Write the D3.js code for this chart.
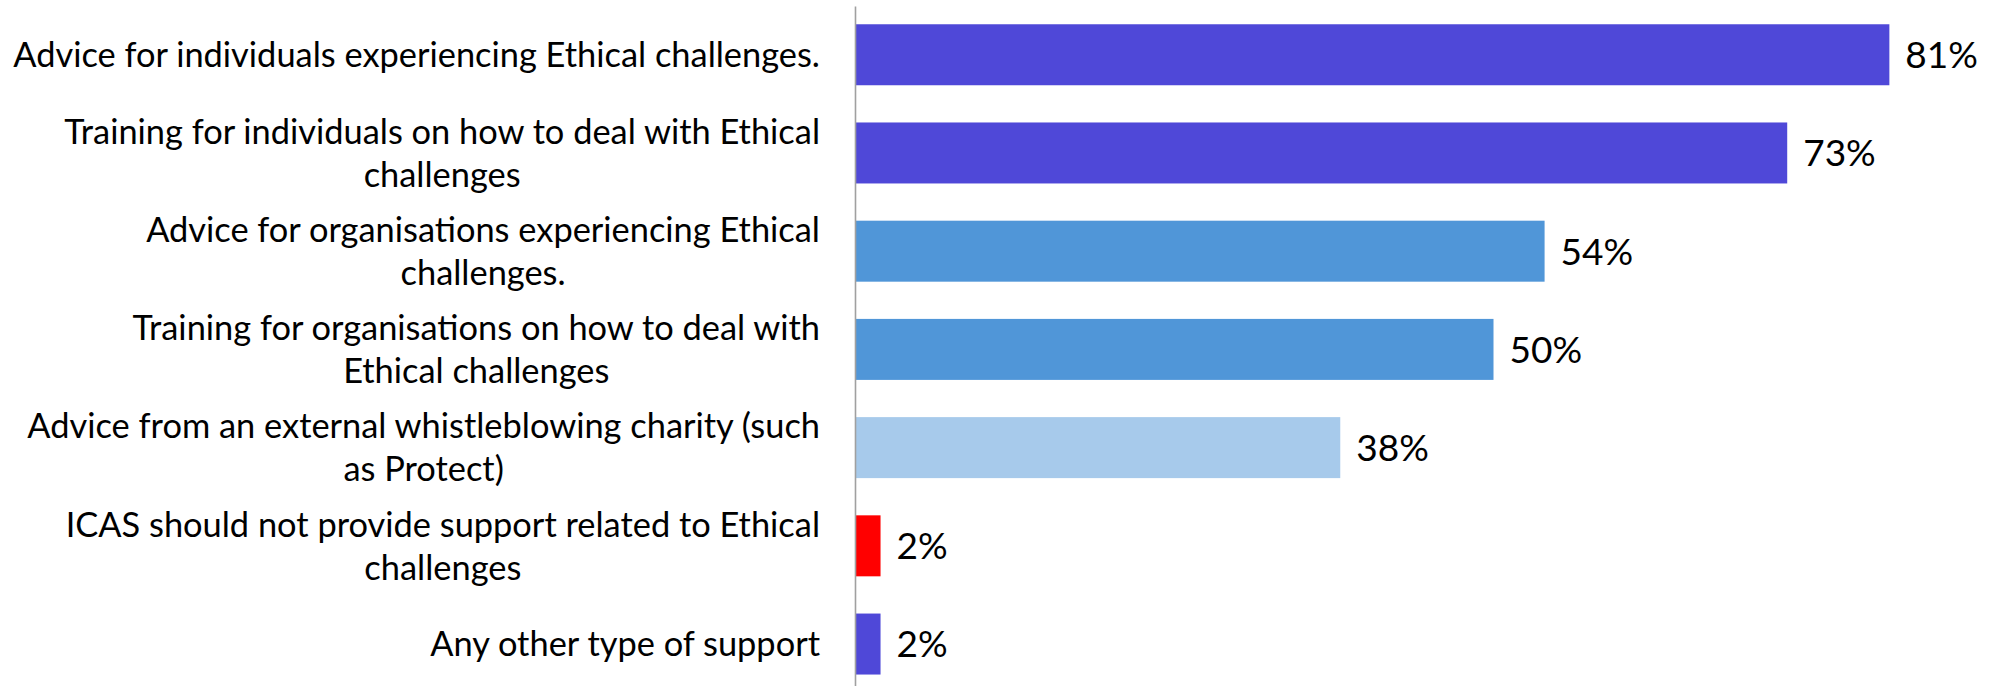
<!DOCTYPE html>
<html>
<head>
<meta charset="utf-8">
<script src="https://cdn.jsdelivr.net/npm/d3@7"></script>
<style>
  html, body { margin: 0; padding: 0; background: #fff; }
  svg { display: block; }
  text { font-family: "Gill Sans", "Gill Sans MT", Lato, "Noto Sans", sans-serif; fill: #000; }
</style>
</head>
<body>
<svg id="chart" width="1995" height="686"></svg>
<script>
// Support options, one line per row of the label
const categories = [
  "Advice for individuals experiencing Ethical challenges.",
  "Training for individuals on how to deal with Ethical\nchallenges",
  "Advice for organisations experiencing Ethical\nchallenges.",
  "Training for organisations on how to deal with\nEthical challenges",
  "Advice from an external whistleblowing charity (such\nas Protect)",
  "ICAS should not provide support related to Ethical\nchallenges",
  "Any other type of support"
];
// Share of respondents (%)
const values = [81, 73, 54, 50, 38, 2, 2];
const barColors = ["#4f48d8", "#4f48d8", "#5096d8", "#5096d8", "#a7caeb", "#ff0000", "#4f48d8"];

const svg = d3.select("#chart");
const axisX = 855;

const x = d3.scaleLinear().domain([0, 100]).range([axisX, axisX + 1277]);
const y = d3.scaleBand().domain(categories).range([5.6, 693.2])
  .paddingInner(0.379).paddingOuter(0.19);

// bars
svg.append("g").selectAll("rect")
  .data(values)
  .join("rect")
  .attr("x", x(0) + 1)
  .attr("y", (d, i) => y(categories[i]))
  .attr("width", d => x(d) - x(0) - 1)
  .attr("height", y.bandwidth())
  .attr("fill", (d, i) => barColors[i]);

// value labels
svg.append("g").selectAll("text")
  .data(values)
  .join("text")
  .attr("x", d => x(d) + 16)
  .attr("y", (d, i) => y(categories[i]) + y.bandwidth() / 2)
  .attr("dy", "0.36em")
  .style("font-size", "37px")
  .text(d => d + "%");

// category labels: block right-aligned, lines centred within the block
const labelRight = 820;
const lineGap = 43;
const labelG = svg.append("g");
categories.forEach(cat => {
  const lines = cat.split("\n");
  const t = labelG.append("text").style("font-size", "34.4px");
  const cy = y(cat) + y.bandwidth() / 2;
  const y0 = cy - (lines.length - 1) * lineGap / 2;
  const spans = lines.map((ln, k) =>
    t.append("tspan").attr("y", y0 + k * lineGap).attr("dy", "0.36em").text(ln));
  const widths = spans.map(s => s.node().getComputedTextLength());
  const blockW = d3.max(widths);
  const cx = labelRight - blockW / 2;
  spans.forEach(s => s.attr("x", cx).attr("text-anchor", "middle"));
});

// vertical category axis
const axis = svg.append("g")
  .attr("transform", `translate(${axisX},0)`)
  .call(d3.axisLeft(d3.scaleLinear().domain([0, 1]).range([6, 686])).ticks(0).tickSize(0).tickSizeOuter(0));
axis.selectAll("text").remove();
axis.select(".domain").attr("stroke", "#a0a0a0").attr("stroke-width", 1.6);
</script>
</body>
</html>
